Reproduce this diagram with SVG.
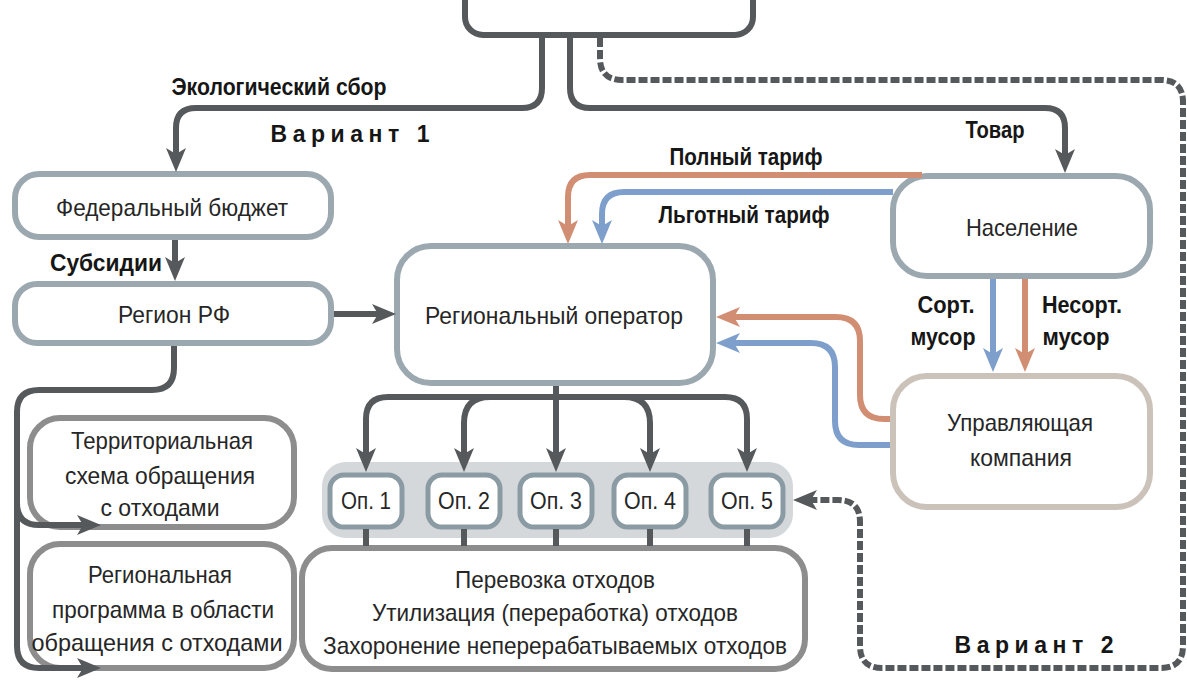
<svg xmlns="http://www.w3.org/2000/svg" width="1187" height="680" viewBox="0 0 1187 680">
<defs>
<style>
.t{font-family:"Liberation Sans Narrow","Liberation Sans",Arial,sans-serif;font-size:24px;fill:#262626;text-anchor:middle}
.b{font-family:"Liberation Sans Narrow","Liberation Sans",Arial,sans-serif;font-size:23px;font-weight:bold;fill:#161616;text-anchor:middle}
.c{fill:none;stroke:#56595c;stroke-width:6}
.o{fill:none;stroke:#d18e72;stroke-width:6}
.u{fill:none;stroke:#7e9fcb;stroke-width:6}
.d{fill:none;stroke:#56595c;stroke-width:6;stroke-dasharray:9 3}
.n1{fill:#fff;stroke:#9ca8af;stroke-width:6}
.n2{fill:#fff;stroke:#8d8d8d;stroke-width:6}
.n3{fill:#fff;stroke:#cbc2ba;stroke-width:6}
.op{fill:#fff;stroke:#8b9ba4;stroke-width:5}
</style>
<marker id="ad" viewBox="0 0 24 20" markerWidth="24" markerHeight="20" markerUnits="userSpaceOnUse" refX="9" refY="10" orient="auto"><path d="M0,0 L24,10 L0,20 L6,10 z" fill="#56595c"/></marker>
<marker id="ao" viewBox="0 0 24 20" markerWidth="24" markerHeight="20" markerUnits="userSpaceOnUse" refX="9" refY="10" orient="auto"><path d="M0,0 L24,10 L0,20 L6,10 z" fill="#d18e72"/></marker>
<marker id="ab" viewBox="0 0 24 20" markerWidth="24" markerHeight="20" markerUnits="userSpaceOnUse" refX="9" refY="10" orient="auto"><path d="M0,0 L24,10 L0,20 L6,10 z" fill="#7e9fcb"/></marker>
</defs>
<rect width="1187" height="680" fill="#fff"/>

<g id="top">
<rect x="465" y="-30" width="288" height="65" rx="18" fill="#fff" stroke="#56595c" stroke-width="6"/>
</g>

<g id="federal">
<rect class="n1" x="15" y="174" width="316" height="63" rx="24"/>
<text class="t" x="172" y="216" textLength="232" lengthAdjust="spacingAndGlyphs">Федеральный бюджет</text>
</g>

<g id="region">
<rect class="n1" x="15" y="284" width="316" height="59" rx="22"/>
<text class="t" x="174" y="323" textLength="112" lengthAdjust="spacingAndGlyphs">Регион РФ</text>
</g>

<g id="operator">
<rect class="n1" x="397" y="246" width="316" height="137" rx="34"/>
<text class="t" x="554" y="324" textLength="258" lengthAdjust="spacingAndGlyphs">Региональный оператор</text>
</g>

<g id="population">
<rect class="n1" x="893" y="176" width="257" height="100" rx="34"/>
<text class="t" x="1022" y="236" textLength="112" lengthAdjust="spacingAndGlyphs">Население</text>
</g>

<g id="company">
<rect class="n3" x="893" y="376" width="257" height="131" rx="34"/>
<text class="t" x="1020" y="431" textLength="146" lengthAdjust="spacingAndGlyphs">Управляющая</text>
<text class="t" x="1021" y="466" textLength="102" lengthAdjust="spacingAndGlyphs">компания</text>
</g>

<g id="territorial">
<rect class="n2" x="30" y="418" width="264" height="109" rx="30"/>
<text class="t" x="162" y="449" textLength="182" lengthAdjust="spacingAndGlyphs">Территориальная</text>
<text class="t" x="160" y="484" textLength="190" lengthAdjust="spacingAndGlyphs">схема обращения</text>
<text class="t" x="160" y="516" textLength="119" lengthAdjust="spacingAndGlyphs">с отходами</text>
</g>

<g id="program">
<rect class="n2" x="30" y="544" width="264" height="124" rx="30"/>
<text class="t" x="160" y="583" textLength="144" lengthAdjust="spacingAndGlyphs">Региональная</text>
<text class="t" x="163" y="618" textLength="222" lengthAdjust="spacingAndGlyphs">программа в области</text>
<text class="t" x="157" y="651" textLength="251" lengthAdjust="spacingAndGlyphs">обращения с отходами</text>
</g>

<g id="operators">
<rect x="322" y="462" width="471" height="76" rx="24" fill="#d4d8db"/>
<g id="op1"><rect class="op" x="330" y="475" width="72" height="52" rx="14"/><text class="t" x="366" y="509" textLength="50" lengthAdjust="spacingAndGlyphs">Оп. 1</text></g>
<g id="op2"><rect class="op" x="428" y="475" width="72" height="52" rx="14"/><text class="t" x="464" y="509" textLength="52" lengthAdjust="spacingAndGlyphs">Оп. 2</text></g>
<g id="op3"><rect class="op" x="520" y="475" width="72" height="52" rx="14"/><text class="t" x="556" y="509" textLength="52" lengthAdjust="spacingAndGlyphs">Оп. 3</text></g>
<g id="op4"><rect class="op" x="614" y="475" width="72" height="52" rx="14"/><text class="t" x="650" y="509" textLength="52" lengthAdjust="spacingAndGlyphs">Оп. 4</text></g>
<g id="op5"><rect class="op" x="711" y="475" width="72" height="52" rx="14"/><text class="t" x="747" y="509" textLength="52" lengthAdjust="spacingAndGlyphs">Оп. 5</text></g>
</g>

<g id="processing">
<rect class="n2" x="302" y="548" width="503" height="121" rx="30"/>
<text class="t" x="555" y="588" textLength="200" lengthAdjust="spacingAndGlyphs">Перевозка отходов</text>
<text class="t" x="555" y="621" textLength="366" lengthAdjust="spacingAndGlyphs">Утилизация (переработка) отходов</text>
<text class="t" x="555" y="654" textLength="464" lengthAdjust="spacingAndGlyphs">Захоронение неперерабатываемых отходов</text>
</g>

<g id="connectors">
<path class="c" d="M542,37 V88 Q542,108 522,108 H196 Q176,108 176,128 V157" marker-end="url(#ad)"/>
<path class="c" d="M570,37 V88 Q570,108 590,108 H1045 Q1065,108 1065,128 V158" marker-end="url(#ad)"/>
<path class="d" d="M600,38 V58 Q600,80 622,80 H1161 Q1183,80 1183,102 V646 Q1183,668 1161,668 H882 Q860,668 860,646 V522 Q860,500 838,500 H808" marker-end="url(#ad)"/>
<path class="c" d="M175,240 V266" marker-end="url(#ad)"/>
<path class="c" d="M334,314 H381" marker-end="url(#ad)"/>
<path class="o" d="M922,175 H590 Q568,175 568,197 V229" marker-end="url(#ao)"/>
<path class="u" d="M893,192 H624 Q602,192 602,214 V229" marker-end="url(#ab)"/>
<path class="u" d="M993,279 V357" marker-end="url(#ab)"/>
<path class="o" d="M1025,279 V357" marker-end="url(#ao)"/>
<path class="o" d="M890,419 H884 Q860,419 860,395 V341 Q860,317 836,317 H731" marker-end="url(#ao)"/>
<path class="u" d="M890,445 H859 Q835,445 835,421 V367 Q835,343 811,343 H731" marker-end="url(#ab)"/>
<path class="c" d="M556,397 H388 Q366,397 366,419 V457" marker-end="url(#ad)"/>
<path class="c" d="M556,397 H725 Q747,397 747,419 V457" marker-end="url(#ad)"/>
<path class="c" d="M490,397 Q464,397 464,423 V457" marker-end="url(#ad)"/>
<path class="c" d="M624,397 Q650,397 650,423 V457" marker-end="url(#ad)"/>
<path class="c" d="M556,386 V457" marker-end="url(#ad)"/>
<path class="c" d="M174,346 V368 Q174,390 152,390 H39 Q17,390 17,412 V646 Q17,668 39,668 H86" marker-end="url(#ad)"/>
<path class="c" d="M17,503 Q17,525 39,525 H86" marker-end="url(#ad)"/>
<path class="c" d="M366,529 V546 M464,529 V546 M556,529 V546 M650,529 V546 M747,529 V546"/>
</g>

<g id="labels">
<text class="b" x="279" y="95" textLength="215" lengthAdjust="spacingAndGlyphs">Экологический сбор</text>
<text class="b" x="350" y="142" textLength="159" lengthAdjust="spacing">Вариант 1</text>
<text class="b" x="995" y="138" textLength="59" lengthAdjust="spacingAndGlyphs">Товар</text>
<text class="b" x="746" y="165" textLength="153" lengthAdjust="spacingAndGlyphs">Полный тариф</text>
<text class="b" x="744" y="223" textLength="171" lengthAdjust="spacingAndGlyphs">Льготный тариф</text>
<text class="b" x="106" y="271" textLength="112" lengthAdjust="spacingAndGlyphs">Субсидии</text>
<text class="b" x="946" y="313" textLength="57" lengthAdjust="spacingAndGlyphs">Сорт.</text>
<text class="b" x="943" y="345" textLength="65" lengthAdjust="spacingAndGlyphs">мусор</text>
<text class="b" x="1082" y="313" textLength="80" lengthAdjust="spacingAndGlyphs">Несорт.</text>
<text class="b" x="1076" y="345" textLength="67" lengthAdjust="spacingAndGlyphs">мусор</text>
<text class="b" x="1034" y="653" textLength="159" lengthAdjust="spacing">Вариант 2</text>
</g>
</svg>
